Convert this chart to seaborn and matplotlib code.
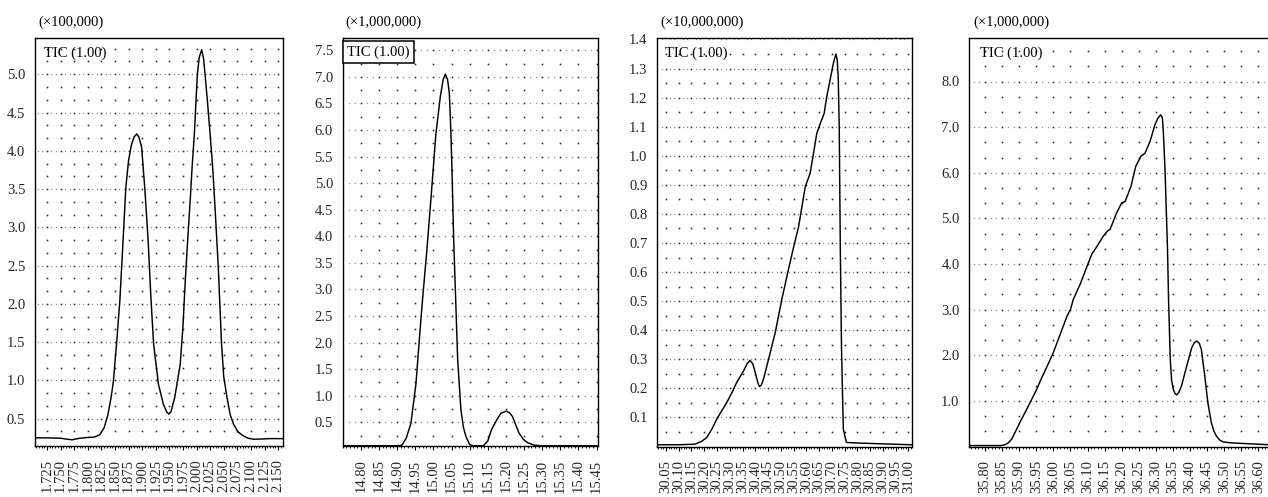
import numpy as np
import matplotlib
matplotlib.use("Agg")
import matplotlib.pyplot as plt
from matplotlib.ticker import FixedLocator, MultipleLocator
import seaborn as sns

# ---------------- data ----------------
p1_x = [1.703, 1.725, 1.750, 1.762, 1.772, 1.785, 1.800, 1.812, 1.822, 1.830, 1.837,
        1.843, 1.847, 1.853, 1.859, 1.864, 1.870, 1.875, 1.880, 1.885, 1.890, 1.894,
        1.899, 1.905, 1.911, 1.916, 1.921, 1.930, 1.939, 1.945, 1.949, 1.953, 1.960,
        1.970, 1.975, 1.979, 1.983, 1.988, 1.992, 1.996, 2.0015, 2.005, 2.0095, 2.013,
        2.0155, 2.020, 2.025, 2.030, 2.034, 2.040, 2.046, 2.050, 2.056, 2.062, 2.068,
        2.076, 2.086, 2.095, 2.105, 2.120, 2.135, 2.159]
p1_y = [0.25, 0.25, 0.245, 0.232, 0.225, 0.245, 0.255, 0.26, 0.29, 0.38, 0.55,
        0.78, 0.98, 1.48, 2.04, 2.70, 3.52, 3.87, 4.07, 4.18, 4.22, 4.18,
        4.05, 3.50, 2.83, 2.10, 1.48, 0.95, 0.69, 0.59, 0.56, 0.59, 0.78,
        1.21, 1.70, 2.26, 2.75, 3.31, 3.80, 4.22, 5.00, 5.22, 5.32, 5.20,
        5.01, 4.65, 4.22, 3.75, 3.26, 2.48, 1.48, 1.05, 0.78, 0.55, 0.43,
        0.33, 0.275, 0.245, 0.232, 0.235, 0.24, 0.24]

p2_x = [14.750, 14.900, 14.913, 14.925, 14.938, 14.952, 14.960, 14.970, 14.982, 14.993,
        15.007, 15.019, 15.027, 15.033, 15.039, 15.044, 15.048, 15.051, 15.056, 15.060,
        15.067, 15.076, 15.083, 15.090, 15.100, 15.110, 15.138, 15.150, 15.160, 15.175,
        15.186, 15.200, 15.210, 15.218, 15.236, 15.248, 15.259, 15.278, 15.300, 15.453]
p2_y = [0.06, 0.06, 0.07, 0.20, 0.48, 1.23, 1.95, 2.80, 3.74, 4.68,
        5.93, 6.62, 6.95, 7.05, 6.95, 6.69, 6.00, 5.31, 3.93, 3.11,
        1.67, 0.73, 0.40, 0.23, 0.08, 0.06, 0.06, 0.15, 0.36, 0.55,
        0.67, 0.71, 0.68, 0.61, 0.30, 0.18, 0.12, 0.07, 0.06, 0.06]

p3_x = [30.016, 30.100, 30.164, 30.190, 30.210, 30.230, 30.249, 30.268, 30.288, 30.310,
        30.327, 30.354, 30.368, 30.379, 30.390, 30.400, 30.410, 30.416, 30.424, 30.432,
        30.452, 30.478, 30.504, 30.530, 30.550, 30.570, 30.583, 30.596, 30.615, 30.626,
        30.641, 30.655, 30.670, 30.680, 30.693, 30.706, 30.716, 30.721, 30.725, 30.729,
        30.733, 30.738, 30.745, 30.757, 30.800, 30.900, 31.013]
p3_y = [0.006, 0.006, 0.008, 0.018, 0.031, 0.060, 0.094, 0.122, 0.151, 0.188,
        0.220, 0.260, 0.285, 0.296, 0.285, 0.254, 0.220, 0.206, 0.212, 0.231,
        0.300, 0.391, 0.506, 0.609, 0.685, 0.757, 0.826, 0.894, 0.940, 0.997,
        1.077, 1.112, 1.146, 1.203, 1.260, 1.318, 1.350, 1.330, 1.272, 1.100,
        0.700, 0.334, 0.060, 0.014, 0.012, 0.009, 0.006]

p4_x = [35.754, 35.800, 35.845, 35.859, 35.868, 35.878, 35.890, 35.902, 35.927, 35.951,
        35.966, 35.980, 36.000, 36.020, 36.040, 36.050, 36.058, 36.078, 36.097, 36.112,
        36.127, 36.146, 36.158, 36.166, 36.185, 36.200, 36.210, 36.227, 36.241, 36.256,
        36.268, 36.283, 36.297, 36.306, 36.314, 36.319, 36.322, 36.327, 36.330, 36.334,
        36.337, 36.342, 36.346, 36.351, 36.356, 36.361, 36.368, 36.375, 36.390, 36.405,
        36.413, 36.420, 36.427, 36.433, 36.443, 36.452, 36.462, 36.470, 36.477, 36.487,
        36.497, 36.520, 36.545, 36.600, 36.628]
p4_y = [0.02, 0.02, 0.02, 0.04, 0.08, 0.16, 0.34, 0.525, 0.89, 1.25,
        1.51, 1.73, 2.06, 2.46, 2.86, 3.00, 3.22, 3.55, 3.92, 4.21,
        4.38, 4.61, 4.72, 4.76, 5.12, 5.34, 5.37, 5.70, 6.14, 6.36,
        6.43, 6.69, 7.05, 7.20, 7.27, 7.20, 6.87, 6.00, 5.26, 4.32,
        3.22, 1.91, 1.45, 1.25, 1.16, 1.13, 1.20, 1.33, 1.76, 2.17,
        2.28, 2.31, 2.26, 2.13, 1.55, 0.96, 0.53, 0.33, 0.23, 0.14,
        0.10, 0.08, 0.07, 0.05, 0.04]

p1_xticks = [1.725, 1.750, 1.775, 1.800, 1.825, 1.850, 1.875, 1.900, 1.925, 1.950,
             1.975, 2.000, 2.025, 2.050, 2.075, 2.100, 2.125, 2.150]
p1_yticks = [0.5, 1.0, 1.5, 2.0, 2.5, 3.0, 3.5, 4.0, 4.5, 5.0]
p2_xticks = [14.80, 14.85, 14.90, 14.95, 15.00, 15.05, 15.10, 15.15, 15.20, 15.25,
             15.30, 15.35, 15.40, 15.45]
p2_yticks = [0.5, 1.0, 1.5, 2.0, 2.5, 3.0, 3.5, 4.0, 4.5, 5.0, 5.5, 6.0, 6.5, 7.0, 7.5]
p3_xticks = [30.05, 30.10, 30.15, 30.20, 30.25, 30.30, 30.35, 30.40, 30.45, 30.50,
             30.55, 30.60, 30.65, 30.70, 30.75, 30.80, 30.85, 30.90, 30.95, 31.00]
p3_yticks = [0.1, 0.2, 0.3, 0.4, 0.5, 0.6, 0.7, 0.8, 0.9, 1.0, 1.1, 1.2, 1.3, 1.4]
p4_xticks = [35.80, 35.85, 35.90, 35.95, 36.00, 36.05, 36.10, 36.15, 36.20, 36.25,
             36.30, 36.35, 36.40, 36.45, 36.50, 36.55, 36.60]
p4_yticks = [1.0, 2.0, 3.0, 4.0, 5.0, 6.0, 7.0, 8.0]

scale_labels = ["(\u00d7100,000)", "(\u00d71,000,000)", "(\u00d710,000,000)", "(\u00d71,000,000)"]
tic_label = "TIC (1.00)"

# ---------------- style ----------------
sns.set_style("white")
plt.rcParams["font.family"] = ["Liberation Serif", "DejaVu Serif"]
FS = 10.5
plt.rcParams["font.size"] = FS

W, H = 1268, 497
fig = plt.figure(figsize=(W / 100, H / 100), dpi=100)


def pos(l, r, t, b):
    return [l / W, 1 - b / H, (r - l) / W, (b - t) / H]


panels = [
    dict(x=p1_x, y=p1_y, xt=p1_xticks, yt=p1_yticks, xfmt="{:.3f}", yfmt="{:.1f}",
         xlim=(1.703, 2.159), ylim=(0.15, 5.48), xminor=0.005, rows=3,
         rect=pos(35, 283, 37.5, 445.5), box=False, right=True),
    dict(x=p2_x, y=p2_y, xt=p2_xticks, yt=p2_yticks, xfmt="{:.2f}", yfmt="{:.1f}",
         xlim=(14.750, 15.453), ylim=(0.055, 7.73), xminor=0.01, rows=2,
         rect=pos(342.7, 597.7, 38, 446), box=True, right=True),
    dict(x=p3_x, y=p3_y, xt=p3_xticks, yt=p3_yticks, xfmt="{:.2f}", yfmt="{:.1f}",
         xlim=(30.016, 31.013), ylim=(0.0, 1.405), xminor=0.01, rows=2,
         rect=pos(657.3, 911.7, 38, 446.5), box=False, right=True),
    dict(x=p4_x, y=p4_y, xt=p4_xticks, yt=p4_yticks, xfmt="{:.2f}", yfmt="{:.1f}",
         xlim=(35.754, 36.628), ylim=(0.0, 8.96), xminor=0.01, rows=3,
         rect=pos(969.3, 1268, 37.7, 446.5), box=False, right=False),
]

for i, p in enumerate(panels):
    ax = fig.add_axes(p["rect"])
    ax.set_xlim(*p["xlim"])
    ax.set_ylim(*p["ylim"])

    # dotted lattice background (derived from tick positions)
    xt = np.array(p["xt"])
    yt = np.array(p["yt"])
    dx = xt[1] - xt[0]
    dy = (yt[1] - yt[0]) / p["rows"]
    x0, x1 = p["xlim"]
    y0, y1 = p["ylim"]
    cols = np.arange(xt[0] - 3 * dx, xt[-1] + 3 * dx, dx)
    cols = cols[(cols > x0 + 0.3 * dx) & (cols < x1 - 0.05 * dx)]
    rws = np.arange(yt[0] - 3 * dy * p["rows"], yt[-1] + 4 * dy * p["rows"], dy)
    rws = rws[(rws > y0 + 0.5 * dy) & (rws < y1 - 0.3 * dy)]
    gx, gy = np.meshgrid(cols, rws)
    ax.plot(gx.ravel(), gy.ravel(), ls="none", marker="s", ms=1.15, mew=0,
            color="#222222", zorder=1)
    # sparser extra dots on major rows
    sub = np.concatenate([cols + dx / 3, cols + 2 * dx / 3, cols - dx / 3, cols - 2 * dx / 3])
    sub = np.unique(np.round(sub, 6))
    sub = sub[(sub > x0 + 0.1 * dx) & (sub < x1 - 0.05 * dx)]
    mx, my = np.meshgrid(sub, yt[(yt > y0) & (yt < y1)])
    ax.plot(mx.ravel(), my.ravel(), ls="none", marker="s", ms=0.9, mew=0,
            color="#8a8a8a", zorder=1)

    sns.lineplot(x=p["x"], y=p["y"], ax=ax, color="black", lw=1.05,
                 estimator=None, zorder=3)

    ax.xaxis.set_major_locator(FixedLocator(p["xt"]))
    ax.set_xticklabels([p["xfmt"].format(v) for v in p["xt"]])
    ax.xaxis.set_minor_locator(MultipleLocator(p["xminor"]))
    ax.yaxis.set_major_locator(FixedLocator(p["yt"]))
    ax.set_yticklabels([p["yfmt"].format(v) for v in p["yt"]])
    ax.tick_params(axis="x", which="major", direction="out", length=3.2, width=0.8,
                   color="black", rotation=90, pad=6.5, labelsize=FS,
                   bottom=True)
    ax.tick_params(axis="x", which="minor", direction="out", length=1.6, width=0.6,
                   color="black", bottom=True)
    ax.tick_params(axis="y", which="both", length=0, pad=7.0, labelsize=FS, left=True)
    ax.set_xlabel("")
    ax.set_ylabel("")
    for s in ax.spines.values():
        s.set_color("black")
        s.set_linewidth(1.0)
        s.set_visible(True)
    if not p["right"]:
        ax.spines["right"].set_visible(False)

    ax.text(0.012, 1.038, scale_labels[i], transform=ax.transAxes, ha="left",
            va="center", fontsize=FS, color="black")
    if p["box"]:
        ax.text(0.018, 0.965, tic_label, transform=ax.transAxes, ha="left",
                va="center", fontsize=FS, color="black", zorder=5,
                bbox=dict(boxstyle="square,pad=0.3", fc="white", ec="black", lw=1.1))
    else:
        ax.text(0.035 if i != 2 else 0.03, 0.962, tic_label, transform=ax.transAxes,
                ha="left", va="center", fontsize=FS, color="black", zorder=5)

fig.savefig("out.png", dpi=100)
